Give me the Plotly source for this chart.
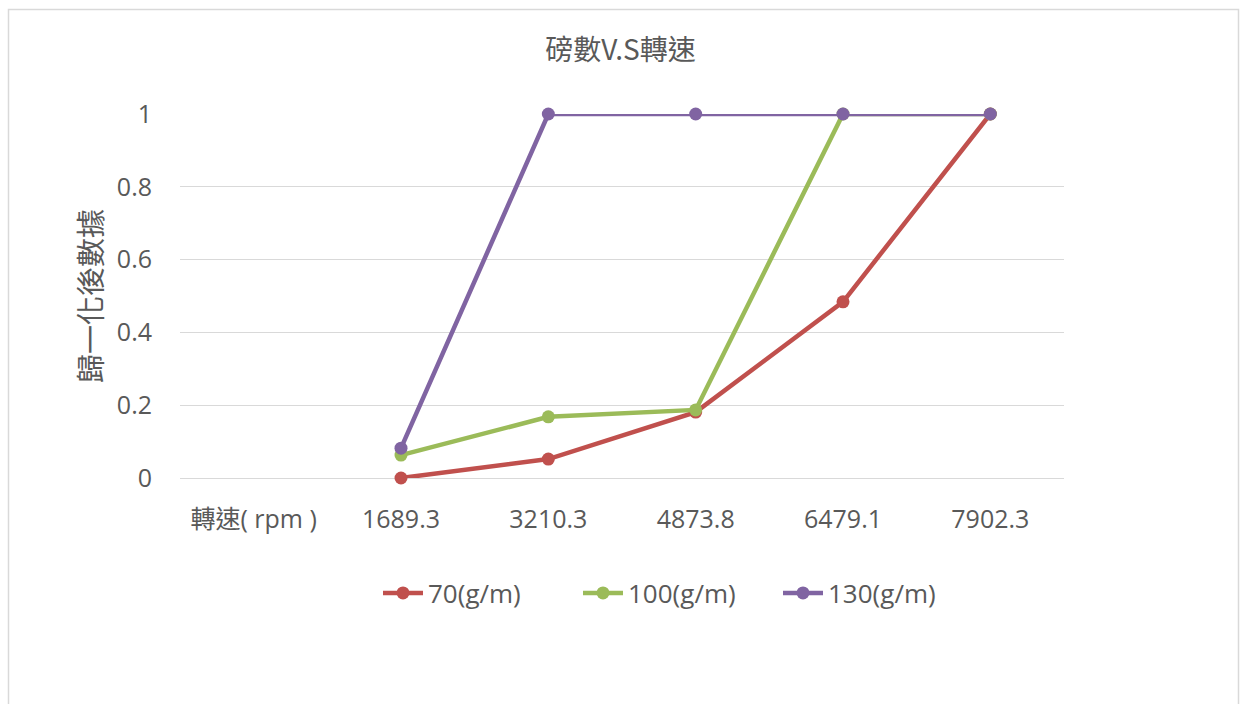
import plotly.graph_objects as go

# Category axis: first slot is the axis caption, then the measured speeds
categories = ["轉速( rpm )", "1689.3", "3210.3", "4873.8", "6479.1", "7902.3"]

# Normalised readings per line density (no value at the caption slot)
g70 = [None, 0.0, 0.052, 0.181, 0.484, 1.0]
g100 = [None, 0.063, 0.168, 0.187, 1.0, 1.0]
g130 = [None, 0.082, 1.0, 1.0, 1.0, 1.0]

series_names = ["70(g/m)", "100(g/m)", "130(g/m)"]
series_values = [g70, g100, g130]
series_colors = ["#C0504D", "#9BBB59", "#8064A2"]

y_ticks = [0, 0.2, 0.4, 0.6, 0.8, 1]
y_ticktext = ["0", "0.2", "0.4", "0.6", "0.8", "1"]

FONT = "Open Sans, 'Noto Sans CJK TC', sans-serif"
CJK = "'Noto Sans CJK TC', sans-serif"
TXT = "#595959"

W, H = 1241, 704
L, R, T, B = 180, 1064, 114, 478

fig = go.Figure()
for name, vals, col in zip(series_names, series_values, series_colors):
    fig.add_trace(go.Scatter(
        x=list(range(len(categories))), y=vals, name=name, mode="lines+markers",
        line=dict(color=col, width=4.5),
        marker=dict(color=col, size=13),
        cliponaxis=False,
    ))

def px_x(p):
    return (p - L) / (R - L)

def px_y(p):
    return (B - p) / (B - T)

fig.update_layout(
    width=W, height=H,
    margin=dict(l=L, r=W - R, t=T, b=H - B, pad=0),
    paper_bgcolor="white", plot_bgcolor="white",
    font=dict(family=FONT, size=25, color=TXT),
    title=dict(text="磅數V.S轉速", x=0.5, xanchor="center", y=1 - 50 / H, yanchor="middle",
               font=dict(family=CJK, size=28, color=TXT)),
    xaxis=dict(
        tickmode="array", tickvals=list(range(len(categories))), ticktext=categories,
        range=[-0.5, len(categories) - 0.5], showgrid=False, zeroline=False,
        showline=False, ticks="", ticklabelstandoff=24,
        tickfont=dict(family=FONT, size=25, color=TXT),
    ),
    yaxis=dict(
        range=[0, 1], tickmode="array", tickvals=y_ticks, ticktext=y_ticktext,
        showgrid=True, gridcolor="#D9D9D9", gridwidth=1.3, zeroline=True,
        zerolinecolor="#D9D9D9", zerolinewidth=1.3, showline=False, ticks="",
        ticklabelstandoff=27, tickfont=dict(family=FONT, size=25, color=TXT),
    ),
    legend=dict(
        orientation="h", x=px_x(378), xanchor="left", y=px_y(593), yanchor="middle",
        font=dict(family=FONT, size=26, color=TXT), bgcolor="rgba(0,0,0,0)",
        itemwidth=40, entrywidth=145, traceorder="normal",
    ),
    showlegend=True,
)

# Y-axis caption
fig.add_annotation(
    text="歸一化後數據", textangle=-90, xref="paper", yref="paper",
    x=px_x(89), y=0.5, xanchor="center", yanchor="middle", showarrow=False,
    font=dict(family=CJK, size=29, color=TXT),
)

# Chart frame
fig.add_shape(
    type="rect", xref="paper", yref="paper",
    x0=px_x(8.5), x1=px_x(1238.5), y0=px_y(712), y1=px_y(9.5),
    line=dict(color="#D9D9D9", width=1.5), fillcolor="rgba(0,0,0,0)", layer="below",
)

fig.write_html("out.html")
